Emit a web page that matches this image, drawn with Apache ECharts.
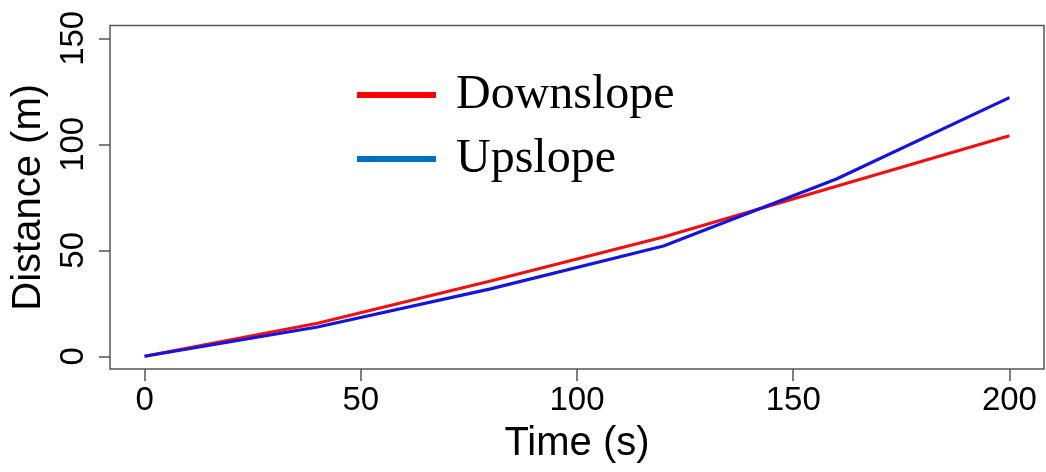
<!DOCTYPE html>
<html>
<head>
<meta charset="utf-8">
<script src="https://cdn.jsdelivr.net/npm/echarts@6/dist/echarts.min.js"></script>
<style>html,body{margin:0;padding:0;background:#fff}#c{width:1046px;height:472px}</style>
</head>
<body>
<div id="c"></div>
<script>
const times = [0, 40, 80, 120, 160, 200];
const downslope = [0, 15.6, 35.5, 56.3, 80.2, 104];
const upslope = [0, 13.8, 31.8, 52, 83.6, 122];
const xTicks = [0, 50, 100, 150, 200];
const yTicks = [0, 50, 100, 150];

const chart = echarts.init(document.getElementById('c'), null, {renderer: 'canvas'});
const sansFont = '"Liberation Sans", Arial, Helvetica, sans-serif';
const serifFont = '"Liberation Serif", "Times New Roman", serif';

chart.setOption({
  animation: false,
  backgroundColor: '#fff',
  grid: {
    left: 110, right: 2, top: 25.6, bottom: 103,
    show: true, borderColor: '#555', borderWidth: 1.5, backgroundColor: 'transparent'
  },
  legend: {
    orient: 'vertical',
    left: 357, top: 64,
    padding: 0,
    itemGap: 2,
    itemWidth: 79, itemHeight: 6,
    icon: 'rect',
    selectedMode: false,
    textStyle: {fontFamily: serifFont, fontSize: 48, color: '#000', lineHeight: 40, padding: [22, 0, 0, 15]},
    data: [
      {name: 'Downslope', itemStyle: {color: '#ff0000'}},
      {name: 'Upslope', itemStyle: {color: '#0070c0'}}
    ]
  },
  xAxis: {
    type: 'value', min: -8, max: 208,
    name: 'Time (s)', nameLocation: 'middle', nameGap: 55,
    nameTextStyle: {fontFamily: sansFont, fontSize: 40, color: '#000'},
    axisLine: {show: false, onZero: false},
    axisTick: {show: true, inside: false, length: 12, lineStyle: {color: '#555', width: 1.5}, customValues: xTicks},
    axisLabel: {fontFamily: sansFont, fontSize: 33, color: '#000', margin: 15, customValues: xTicks},
    splitLine: {show: false}
  },
  yAxis: {
    type: 'value', min: -6, max: 156,
    name: 'Distance (m)', nameLocation: 'middle', nameGap: 60,
    nameTextStyle: {fontFamily: sansFont, fontSize: 40, color: '#000'},
    axisLine: {show: false, onZero: false},
    axisTick: {show: true, inside: false, length: 11, lineStyle: {color: '#555', width: 1.5}, customValues: yTicks},
    axisLabel: {fontFamily: sansFont, fontSize: 33, color: '#000', margin: 20, rotate: 90, customValues: yTicks},
    splitLine: {show: false}
  },
  series: [
    {
      name: 'Downslope', type: 'line', symbol: 'none',
      data: times.map((t, i) => [t, downslope[i]]),
      lineStyle: {color: '#f01010', width: 3.2}, itemStyle: {color: '#f01010'}
    },
    {
      name: 'Upslope', type: 'line', symbol: 'none',
      data: times.map((t, i) => [t, upslope[i]]),
      lineStyle: {color: '#1414e0', width: 3.2}, itemStyle: {color: '#1414e0'}
    }
  ]
});
</script>
</body>
</html>
